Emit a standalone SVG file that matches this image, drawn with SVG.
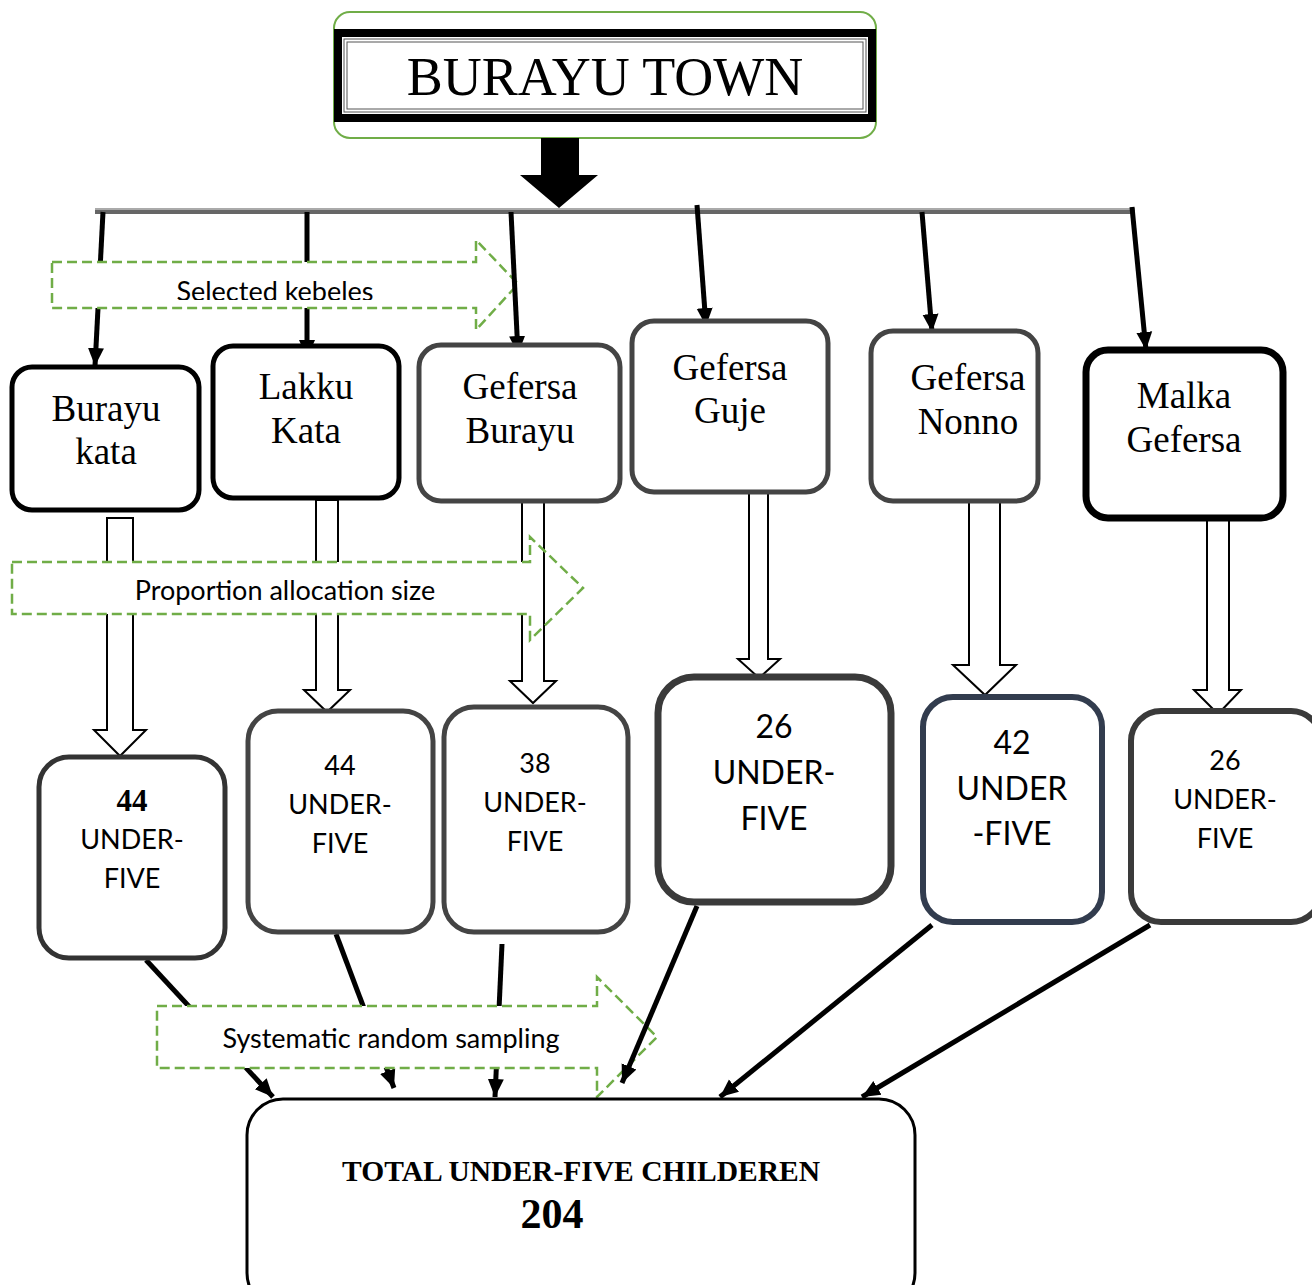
<svg xmlns="http://www.w3.org/2000/svg" width="1312" height="1285" viewBox="0 0 1312 1285">
<style>
.serif{font-family:"Liberation Serif","Times New Roman",serif;fill:#000}
.sans{font-family:Lato,"Open Sans",sans-serif;fill:#000}
.box{fill:#fff}
.conn{stroke:#000;stroke-width:5;fill:none}
.hollow{fill:#fff;stroke:#000;stroke-width:2;stroke-linejoin:miter}
.dash{fill:none;stroke:#70ad47;stroke-width:2.5;stroke-dasharray:10 5}
</style>
<defs>
<marker id="ah" markerUnits="userSpaceOnUse" markerWidth="20" markerHeight="20" viewBox="0 0 20 20" refX="18" refY="10" orient="auto">
<path d="M0,2 L18,10 L0,18 Z" fill="#000"/>
</marker>
<clipPath id="clipSel"><rect x="52" y="262" width="424" height="38"/></clipPath>
</defs>

<g id="title">
<rect x="334" y="12" width="542" height="126" rx="16" fill="#fff" stroke="#70ad47" stroke-width="2"/>
<rect x="338" y="33" width="534" height="85" fill="#fff" stroke="#000" stroke-width="8"/>
<rect x="344" y="39" width="522" height="73" fill="none" stroke="#555" stroke-width="1"/>
<rect x="347" y="42" width="516" height="67" fill="none" stroke="#555" stroke-width="1"/>
<text class="serif" x="605" y="95" font-size="54" text-anchor="middle">BURAYU TOWN</text>
</g>

<g id="connectors">
<polygon points="541,138 579,138 579,175 598,175 559,208 520,175 541,175" fill="#000"/>
<line x1="95" y1="209" x2="1135" y2="209" stroke="#aaa" stroke-width="2"/>
<line x1="95" y1="212" x2="1135" y2="212" stroke="#666" stroke-width="4"/>
<line class="conn" x1="103" y1="212" x2="95" y2="366" marker-end="url(#ah)"/>
<line class="conn" x1="307" y1="212" x2="307" y2="358" marker-end="url(#ah)"/>
<line class="conn" x1="697" y1="205" x2="706" y2="326" marker-end="url(#ah)"/>
<line class="conn" x1="922" y1="212" x2="932" y2="332" marker-end="url(#ah)"/>
<line class="conn" x1="1132" y1="207" x2="1146" y2="350" marker-end="url(#ah)"/>

<g id="selected-kebeles">
<rect x="52" y="262" width="424" height="46" fill="#fff"/>
<polygon class="dash" points="52,262 476,262 476,240 518,284 476,330 476,308 52,308"/>
<text class="sans" x="275" y="301" font-size="27" text-anchor="middle" clip-path="url(#clipSel)">Selected kebeles</text>
</g>
<line class="conn" x1="511" y1="212" x2="518" y2="354" marker-end="url(#ah)"/>

<polygon class="hollow" points="107,518 133,518 133,730 146,730 120,756 94,730 107,730"/>
<polygon class="hollow" points="316,500 338,500 338,690 350,690 327,712 304,690 316,690"/>
<polygon class="hollow" points="522,501 544,501 544,681 556,681 533,703 510,681 522,681"/>
<polygon class="hollow" points="749,492 768,492 768,659 780,659 759,678 738,659 749,659"/>
<polygon class="hollow" points="969,501 1000,501 1000,665 1016,665 985,695 953,665 969,665"/>
<polygon class="hollow" points="1207,519 1229,519 1229,690 1241,690 1218,714 1194,690 1207,690"/>

<g id="proportion-allocation">
<rect x="12" y="562" width="518" height="52" fill="#fff"/>
<polygon class="dash" points="12,562 530,562 530,537 583,588 530,640 530,614 12,614"/>
<text class="sans" x="285" y="600" font-size="27" text-anchor="middle">Proportion allocation size</text>
</g>

<line class="conn" x1="146" y1="960" x2="273" y2="1097" marker-end="url(#ah)"/>
<line class="conn" x1="336" y1="934" x2="394" y2="1088" marker-end="url(#ah)"/>
<line class="conn" x1="502" y1="944" x2="495" y2="1097" marker-end="url(#ah)"/>

<g id="systematic-sampling">
<rect x="157" y="1006" width="440" height="62" fill="#fff"/>
<polygon class="dash" points="157,1006 597,1006 597,977 657,1037 597,1097 597,1068 157,1068"/>
<text class="sans" x="391" y="1048" font-size="27" text-anchor="middle">Systematic random sampling</text>
</g>

<line class="conn" x1="697" y1="906" x2="622" y2="1083" marker-end="url(#ah)"/>
<line class="conn" x1="932" y1="925" x2="720" y2="1097" marker-end="url(#ah)"/>
<line class="conn" x1="1150" y1="925" x2="862" y2="1097" stroke-width="6" marker-end="url(#ah)"/>
</g>

<g id="burayu-kata">
<rect class="box" x="12" y="367" width="187" height="143" rx="20" stroke="#000" stroke-width="5"/>
<text class="serif" x="106" y="421" font-size="37" text-anchor="middle">Burayu</text>
<text class="serif" x="106" y="464" font-size="37" text-anchor="middle">kata</text>
</g>
<g id="lakku-kata">
<rect class="box" x="213" y="346" width="186" height="152" rx="20" stroke="#000" stroke-width="5"/>
<text class="serif" x="306" y="399" font-size="37" text-anchor="middle">Lakku</text>
<text class="serif" x="306" y="443" font-size="37" text-anchor="middle">Kata</text>
</g>
<g id="gefersa-burayu">
<rect class="box" x="419" y="345" width="201" height="156" rx="22" stroke="#444" stroke-width="5"/>
<text class="serif" x="520" y="399" font-size="37" text-anchor="middle">Gefersa</text>
<text class="serif" x="520" y="443" font-size="37" text-anchor="middle">Burayu</text>
</g>
<g id="gefersa-guje">
<rect class="box" x="632" y="321" width="196" height="171" rx="22" stroke="#444" stroke-width="5"/>
<text class="serif" x="730" y="380" font-size="37" text-anchor="middle">Gefersa</text>
<text class="serif" x="730" y="423" font-size="37" text-anchor="middle">Guje</text>
</g>
<g id="gefersa-nonno">
<rect class="box" x="871" y="331" width="167" height="170" rx="22" stroke="#444" stroke-width="5"/>
<text class="serif" x="968" y="390" font-size="37" text-anchor="middle">Gefersa</text>
<text class="serif" x="968" y="434" font-size="37" text-anchor="middle">Nonno</text>
</g>
<g id="malka-gefersa">
<rect class="box" x="1086" y="350" width="197" height="168" rx="22" stroke="#000" stroke-width="7"/>
<text class="serif" x="1184" y="408" font-size="37" text-anchor="middle">Malka</text>
<text class="serif" x="1184" y="452" font-size="37" text-anchor="middle">Gefersa</text>
</g>

<g id="under-five-1">
<rect class="box" x="39" y="757" width="186" height="201" rx="30" stroke="#333" stroke-width="5"/>
<text class="serif" x="132" y="811" font-size="31" font-weight="bold" text-anchor="middle">44</text>
<text class="sans" x="132" y="849" font-size="27" text-anchor="middle">UNDER-</text>
<text class="sans" x="132" y="888" font-size="27" text-anchor="middle">FIVE</text>
</g>
<g id="under-five-2">
<rect class="box" x="248" y="711" width="185" height="221" rx="30" stroke="#444" stroke-width="5"/>
<text class="sans" x="340" y="775" font-size="27" text-anchor="middle">44</text>
<text class="sans" x="340" y="814" font-size="27" text-anchor="middle">UNDER-</text>
<text class="sans" x="340" y="853" font-size="27" text-anchor="middle">FIVE</text>
</g>
<g id="under-five-3">
<rect class="box" x="444" y="707" width="184" height="225" rx="30" stroke="#444" stroke-width="5"/>
<text class="sans" x="535" y="773" font-size="27" text-anchor="middle">38</text>
<text class="sans" x="535" y="812" font-size="27" text-anchor="middle">UNDER-</text>
<text class="sans" x="535" y="851" font-size="27" text-anchor="middle">FIVE</text>
</g>
<g id="under-five-4">
<rect class="box" x="658" y="677" width="233" height="225" rx="36" stroke="#3a3a3a" stroke-width="7"/>
<text class="sans" x="774" y="738" font-size="32" text-anchor="middle">26</text>
<text class="sans" x="774" y="784" font-size="32" text-anchor="middle">UNDER-</text>
<text class="sans" x="774" y="830" font-size="32" text-anchor="middle">FIVE</text>
</g>
<g id="under-five-5">
<rect class="box" x="923" y="697" width="179" height="225" rx="30" stroke="#323c4e" stroke-width="6"/>
<text class="sans" x="1012" y="754" font-size="32" text-anchor="middle">42</text>
<text class="sans" x="1012" y="800" font-size="32" text-anchor="middle">UNDER</text>
<text class="sans" x="1012" y="845" font-size="32" text-anchor="middle">-FIVE</text>
</g>
<g id="under-five-6">
<rect class="box" x="1131" y="711" width="190" height="211" rx="30" stroke="#3a3a3a" stroke-width="6"/>
<text class="sans" x="1225" y="770" font-size="27" text-anchor="middle">26</text>
<text class="sans" x="1225" y="809" font-size="27" text-anchor="middle">UNDER-</text>
<text class="sans" x="1225" y="848" font-size="27" text-anchor="middle">FIVE</text>
</g>

<g id="total">
<rect class="box" x="247" y="1099" width="668" height="210" rx="36" stroke="#000" stroke-width="3"/>
<text class="serif" x="581" y="1181" font-size="30" font-weight="bold" text-anchor="middle" textLength="478" lengthAdjust="spacingAndGlyphs">TOTAL UNDER-FIVE CHILDEREN</text>
<text class="serif" x="552" y="1228" font-size="42" font-weight="bold" text-anchor="middle">204</text>
</g>
</svg>
